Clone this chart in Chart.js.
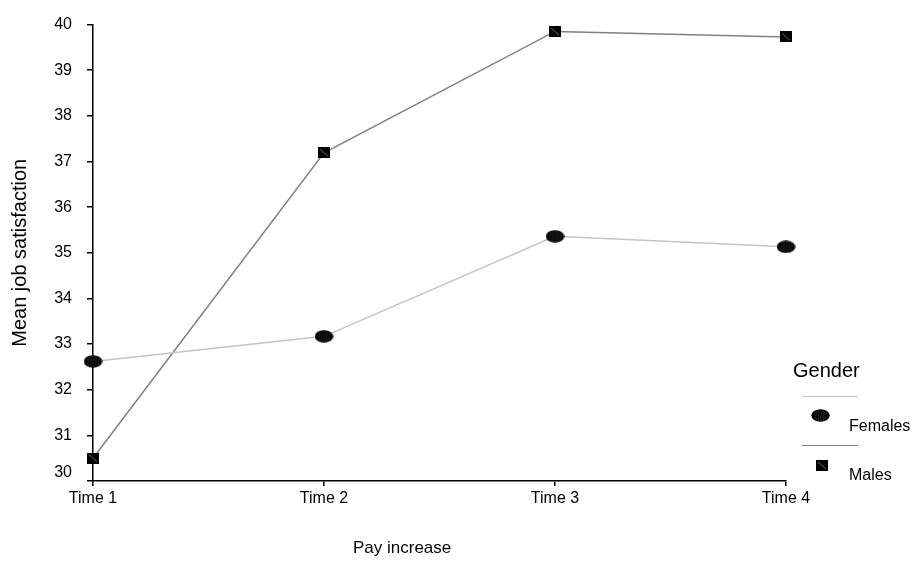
<!DOCTYPE html>
<html>
<head>
<meta charset="utf-8">
<script src="https://cdn.jsdelivr.net/npm/chart.js@4.4.1/dist/chart.umd.min.js"></script>
<style>
  html, body { margin: 0; padding: 0; background: #fff; }
  #wrap { position: relative; width: 914px; height: 561px; font-family: Arial, "Liberation Sans", sans-serif; color: #000; }
  #wrap canvas#chart { position: absolute; left: 0; top: 0; }
  .txt { position: absolute; white-space: nowrap; line-height: 1; }
  .lline { position: absolute; height: 0; border-top: 1.5px solid; }
  .lmark { position: absolute; }
</style>
</head>
<body>
<div id="wrap">
  <canvas id="chart" width="914" height="561"></canvas>
  <div class="txt" id="xtitle" style="left:353px; top:539px; font-size:17px;">Pay increase</div>
  <div class="txt" id="legTitle" style="left:793px; top:360px; font-size:20px;">Gender</div>
  <div class="lline" style="left:802px; top:396px; width:56px; border-color:#c4c4c4;"></div>
  <div class="txt" style="left:849px; top:418px; font-size:16px;">Females</div>
  <div class="lline" style="left:802px; top:445px; width:56px; border-color:#808080;"></div>
  <div class="txt" style="left:849px; top:467px; font-size:16px;">Males</div>
</div>
<script>
const categories = ["Time 1", "Time 2", "Time 3", "Time 4"];
const femalesValues = [32.62, 33.17, 35.36, 35.13];
const malesValues = [30.5, 37.19, 39.85, 39.73];
const seriesNames = ["Females", "Males"];
const yTitle = "Mean job satisfaction";

function femaleMarker() {
  const c = document.createElement('canvas');
  c.width = 19; c.height = 13;
  const g = c.getContext('2d');
  g.fillStyle = '#000';
  g.beginPath();
  g.ellipse(9.5, 6.5, 9.2, 6.2, 0, 0, Math.PI * 2);
  g.fill();
  g.save();
  g.clip();
  g.strokeStyle = '#3a3a3a';
  g.lineWidth = 0.7;
  for (let x = 4.5; x <= 15; x += 2.5) {
    g.beginPath();
    g.moveTo(x, 1); g.lineTo(x + 1, 4); g.lineTo(x, 8); g.lineTo(x + 1, 12);
    g.stroke();
  }
  g.restore();
  return c;
}
function maleMarker() {
  const c = document.createElement('canvas');
  c.width = 12; c.height = 11;
  const g = c.getContext('2d');
  g.fillStyle = '#000';
  g.fillRect(0, 0, 12, 11);
  g.strokeStyle = '#8a8a8a';
  g.lineWidth = 0.8;
  g.beginPath(); g.moveTo(2, 2); g.lineTo(10, 9); g.stroke();
  return c;
}

// legend markers
const wrap = document.getElementById('wrap');
const lf = femaleMarker(); lf.className = 'lmark'; lf.style.left = '811px'; lf.style.top = '409px'; wrap.appendChild(lf);
const lm = maleMarker(); lm.className = 'lmark'; lm.style.left = '816px'; lm.style.top = '460px'; wrap.appendChild(lm);

const fontFam = 'Arial, "Liberation Sans", sans-serif';

// shift the bottom y label ("30") up slightly, as in the reference
const shiftBottomLabel = {
  id: 'shiftBottomLabel',
  beforeDraw(chart) {
    const s = chart.scales.y;
    const items = s.getLabelItems(chart.chartArea);
    items.forEach(it => {
      if (String(it.label) === String(s.min)) {
        it.options.translation = [it.options.translation[0], it.options.translation[1] - 8];
      }
    });
  }
};

new Chart(document.getElementById('chart'), {
  type: 'line',
  data: {
    labels: categories,
    datasets: [
      {
        label: seriesNames[0],
        data: femalesValues,
        borderColor: '#c4c4c4',
        borderWidth: 1.5,
        pointStyle: femaleMarker(),
        tension: 0,
        fill: false,
        clip: false
      },
      {
        label: seriesNames[1],
        data: malesValues,
        borderColor: '#808080',
        borderWidth: 1.5,
        pointStyle: maleMarker(),
        tension: 0,
        fill: false,
        clip: false
      }
    ]
  },
  plugins: [shiftBottomLabel],
  options: {
    responsive: false,
    animation: false,
    devicePixelRatio: 1,
    layout: { padding: { left: 0, top: 22, right: 128, bottom: 0 } },
    plugins: { legend: { display: false }, tooltip: { enabled: false } },
    scales: {
      x: {
        type: 'category',
        offset: false,
        grid: { display: true, drawOnChartArea: false, drawTicks: true, tickLength: 5, color: '#000', lineWidth: 1.5 },
        border: { display: true, color: '#000', width: 1.5 },
        ticks: { color: '#000', font: { family: fontFam, size: 16 }, padding: 3, maxRotation: 0, autoSkip: false },
        afterFit: (s) => { s.height = 80; }
      },
      y: {
        min: 30, max: 40,
        grid: { display: true, drawOnChartArea: false, drawTicks: true, tickLength: 6, color: '#000', lineWidth: 1.5 },
        border: { display: true, color: '#000', width: 1.5 },
        ticks: { stepSize: 1, color: '#000', font: { family: fontFam, size: 16 }, padding: 15 },
        title: { display: true, text: yTitle, color: '#000', font: { family: fontFam, size: 20 }, padding: { top: 8, bottom: 0 } },
        afterFit: (s) => { s.width = 93; }
      }
    }
  }
});
</script>
</body>
</html>
